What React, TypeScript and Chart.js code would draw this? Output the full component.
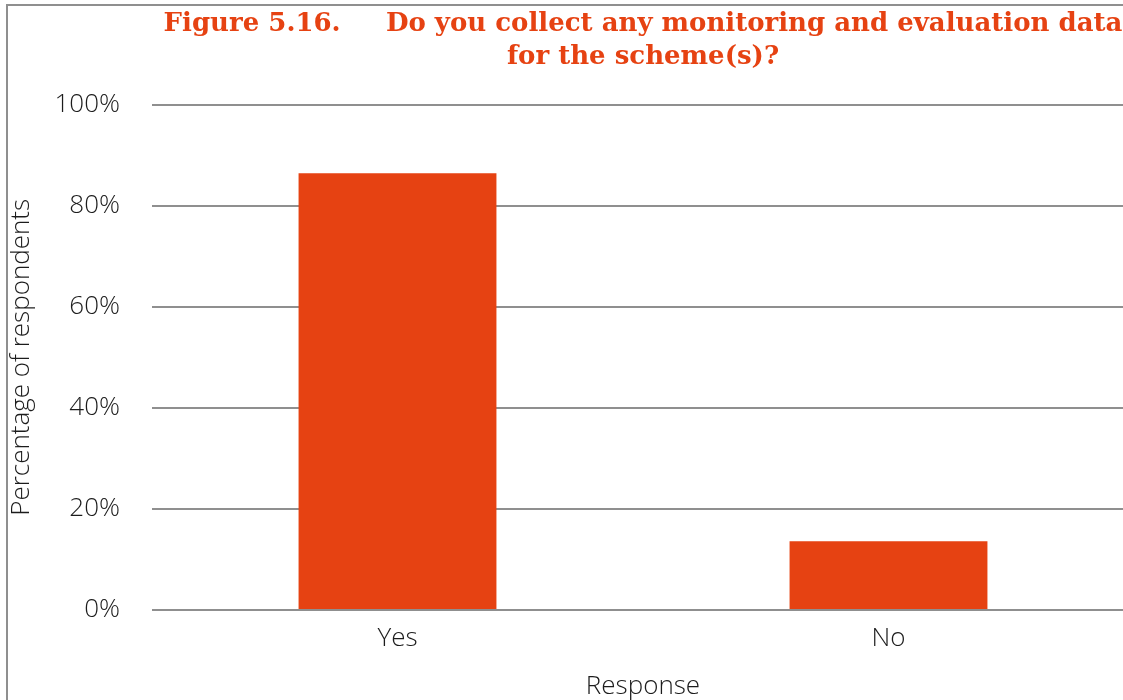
import React, { useEffect, useRef } from "react";
import { Chart, registerables } from "chart.js";

Chart.register(...registerables);

const categories = ["Yes", "No"];
const shares = [86.4, 13.6];
const yTicks = [0, 20, 40, 60, 80, 100];
const titleLines = [
  "Figure 5.16.\u00a0\u00a0\u00a0\u00a0\u00a0Do you collect any monitoring and evaluation data",
  "for the scheme(s)?",
];
const yAxisTitle = "Percentage of respondents";
const xAxisTitle = "Response";

const ORANGE = "#E64212";
const GRID = "#8f8f8f";
const TEXT = "#1c1c1c";
const SANS = "'Open Sans', 'Noto Sans', sans-serif";
const labelFont = { family: SANS, size: 26, weight: 300 as any };

export default function App() {
  const canvasRef = useRef<HTMLCanvasElement | null>(null);

  useEffect(() => {
    if (!canvasRef.current) return;
    const chart = new Chart(canvasRef.current, {
      type: "bar",
      data: {
        labels: categories,
        datasets: [
          {
            data: shares,
            backgroundColor: ORANGE,
            borderWidth: 0,
            categoryPercentage: 1,
            barPercentage: 0.403,
          },
        ],
      },
      options: {
        animation: false,
        responsive: true,
        maintainAspectRatio: false,
        layout: { padding: { left: 6, right: 6, top: 0, bottom: 0 } },
        plugins: {
          legend: { display: false },
          tooltip: { enabled: false },
          title: {
            display: true,
            text: titleLines,
            fullSize: false,
            color: ORANGE,
            font: { family: "'DejaVu Serif', serif", size: 26, weight: "bold", lineHeight: 1.3 },
            padding: { top: 7, bottom: 30 },
          },
        },
        scales: {
          x: {
            grid: { display: false, drawTicks: false },
            border: { display: false },
            ticks: { color: TEXT, font: labelFont, padding: 13 },
            title: {
              display: true,
              text: xAxisTitle,
              color: TEXT,
              font: labelFont,
              padding: { top: 0, bottom: -2 },
            },
            afterFit: (s: any) => {
              s.height = 90;
            },
          },
          y: {
            min: 0,
            max: 100,
            afterBuildTicks: (s: any) => {
              s.ticks = yTicks.map((v) => ({ value: v }));
            },
            grid: { color: GRID, lineWidth: 2, drawTicks: false },
            border: { display: false },
            ticks: {
              color: TEXT,
              font: labelFont,
              padding: 32,
              callback: (v: any) => `${v}%`,
            },
            title: {
              display: true,
              text: yAxisTitle,
              color: TEXT,
              font: labelFont,
              padding: { top: 0, bottom: 0 },
            },
            afterFit: (s: any) => {
              s.width = 146;
            },
          },
        },
      },
    });
    return () => chart.destroy();
  }, []);

  return (
    <div
      style={{
        position: "fixed",
        left: 0,
        top: 0,
        width: 1123,
        height: 700,
        overflow: "hidden",
        background: "#fff",
      }}
    >
      <div
        style={{
          position: "absolute",
          left: 6,
          top: 4,
          width: 1140,
          height: 694,
          borderTop: `2px solid ${GRID}`,
          borderLeft: `2px solid ${GRID}`,
          borderBottom: "1px solid #eeeeee",
        }}
      />
      <div style={{ position: "absolute", left: 0, top: 0, width: 1140, height: 700 }}>
        <canvas ref={canvasRef} />
      </div>
    </div>
  );
}
